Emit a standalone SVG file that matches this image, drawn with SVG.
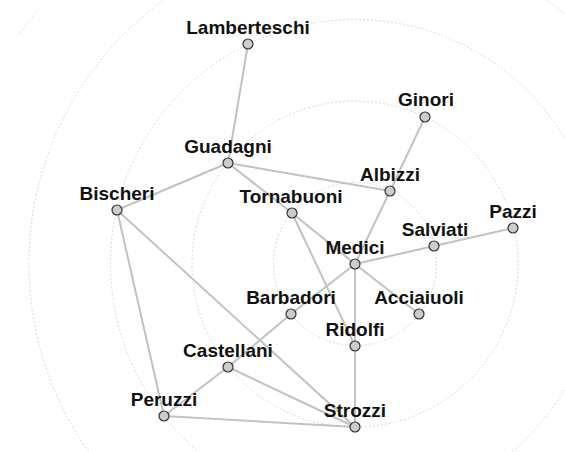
<svg xmlns="http://www.w3.org/2000/svg" width="565" height="452" viewBox="0 0 565 452">
<style>
.ring{fill:none;stroke:#d8d8d8;stroke-width:1;stroke-dasharray:2,2}
.edge{stroke:#c2c2c2;stroke-width:2;fill:none}
.node circle{fill:#cccccc;stroke:#333;stroke-width:1.2}
.node text{font-family:"Liberation Sans",Arial,sans-serif;font-weight:bold;font-size:19px;fill:#111;text-anchor:middle}
</style>
<rect width="565" height="452" fill="#fff"/>
<g id="rings">
<circle class="ring" cx="355" cy="264" r="81.5"/>
<circle class="ring" cx="355" cy="264" r="163"/>
<circle class="ring" cx="355" cy="264" r="244.5"/>
<circle class="ring" cx="355" cy="264" r="326"/>
<path class="ring" d="M20,33 A407,407 0 0 1 38,10"/>
</g>
<g id="connectors">
<line class="edge" x1="248" y1="44" x2="228" y2="163"/>
<line class="edge" x1="228" y1="163" x2="117" y2="210"/>
<line class="edge" x1="228" y1="163" x2="390" y2="191"/>
<line class="edge" x1="228" y1="163" x2="292" y2="213"/>
<line class="edge" x1="425" y1="117" x2="390" y2="191"/>
<line class="edge" x1="390" y1="191" x2="355" y2="264"/>
<line class="edge" x1="292" y1="213" x2="355" y2="264"/>
<line class="edge" x1="292" y1="213" x2="355" y2="346"/>
<line class="edge" x1="434" y1="246" x2="355" y2="264"/>
<line class="edge" x1="434" y1="246" x2="513" y2="228"/>
<line class="edge" x1="355" y1="264" x2="291" y2="314"/>
<line class="edge" x1="355" y1="264" x2="419" y2="314"/>
<line class="edge" x1="355" y1="264" x2="355" y2="346"/>
<line class="edge" x1="355" y1="346" x2="355" y2="427"/>
<line class="edge" x1="291" y1="314" x2="228" y2="367"/>
<line class="edge" x1="228" y1="367" x2="164" y2="416"/>
<line class="edge" x1="228" y1="367" x2="355" y2="427"/>
<line class="edge" x1="117" y1="210" x2="164" y2="416"/>
<line class="edge" x1="117" y1="210" x2="355" y2="427"/>
<line class="edge" x1="164" y1="416" x2="355" y2="427"/>
</g>
<g id="Lamberteschi" class="node"><circle cx="248" cy="44" r="5"/><text x="248" y="34">Lamberteschi</text></g>
<g id="Guadagni" class="node"><circle cx="228" cy="163" r="5"/><text x="228" y="153">Guadagni</text></g>
<g id="Bischeri" class="node"><circle cx="117" cy="210" r="5"/><text x="117" y="200">Bischeri</text></g>
<g id="Tornabuoni" class="node"><circle cx="292" cy="213" r="5"/><text x="291" y="203">Tornabuoni</text></g>
<g id="Ginori" class="node"><circle cx="425" cy="117" r="5"/><text x="426" y="106">Ginori</text></g>
<g id="Albizzi" class="node"><circle cx="390" cy="191" r="5"/><text x="390" y="181">Albizzi</text></g>
<g id="Pazzi" class="node"><circle cx="513" cy="228" r="5"/><text x="513" y="218">Pazzi</text></g>
<g id="Salviati" class="node"><circle cx="434" cy="246" r="5"/><text x="435" y="236">Salviati</text></g>
<g id="Medici" class="node"><circle cx="355" cy="264" r="5"/><text x="355" y="254">Medici</text></g>
<g id="Barbadori" class="node"><circle cx="291" cy="314" r="5"/><text x="291" y="304">Barbadori</text></g>
<g id="Acciaiuoli" class="node"><circle cx="419" cy="314" r="5"/><text x="419" y="304">Acciaiuoli</text></g>
<g id="Ridolfi" class="node"><circle cx="355" cy="346" r="5"/><text x="355" y="336">Ridolfi</text></g>
<g id="Castellani" class="node"><circle cx="228" cy="367" r="5"/><text x="228" y="357">Castellani</text></g>
<g id="Peruzzi" class="node"><circle cx="164" cy="416" r="5"/><text x="164" y="406">Peruzzi</text></g>
<g id="Strozzi" class="node"><circle cx="355" cy="427" r="5"/><text x="355" y="417">Strozzi</text></g>
</svg>
